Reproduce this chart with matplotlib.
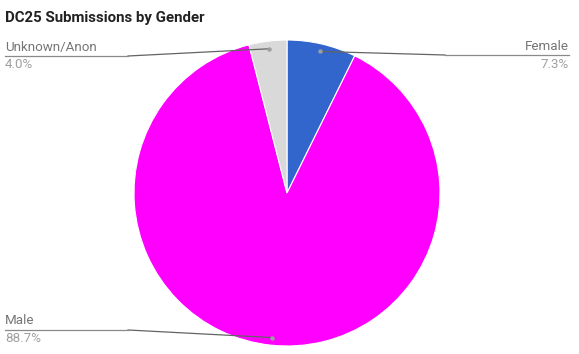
import numpy as np
import matplotlib.pyplot as plt

labels = ["Female", "Male", "Unknown/Anon"]
shares = [7.3, 88.7, 4.0]
colors = ["#3366cc", "#ff00ff", "#d9d9d9"]

W, H = 579, 354
fig = plt.figure(figsize=(W / 100, H / 100), dpi=100)
ax = fig.add_axes([0, 0, 1, 1])

cx, cy, r = 287, H - 193, 153
ax.pie(shares, colors=colors, startangle=90, counterclock=False,
       center=(cx, cy), radius=r, frame=True,
       wedgeprops=dict(edgecolor="white", linewidth=0.8))
ax.set_xlim(0, W)
ax.set_ylim(0, H)
ax.set_aspect("equal")
ax.axis("off")

fig.text(5 / W, 1 - 18 / H, "DC25 Submissions by Gender", fontfamily="Roboto",
         fontweight="bold", fontsize=10.8, color="#222222", va="center")

# label anchors: (side, y of underline in px)
layout = {"Female": ("right", 55), "Male": ("left", 330), "Unknown/Anon": ("left", 56)}

cum = 0
for lab, val in zip(labels, shares):
    mid = 90 - (cum + val / 2) * 3.6
    cum += val
    dx, dy = np.cos(np.radians(mid)), np.sin(np.radians(mid))
    px, py = cx + 0.95 * r * dx, cy + 0.95 * r * dy
    side, ly = layout[lab]
    ly = H - ly
    if side == "right":
        x_end, x_knee, ha = 569, 445, "right"
    else:
        x_end, x_knee, ha = 5, 128, "left"
    ax.plot([px, x_knee], [py, ly], color="#636363", lw=0.9)
    ax.plot([x_knee, x_end], [ly, ly], color="#8a8a8a", lw=0.9)
    ax.plot(px, py, "o", ms=3.2, color="#9e9e9e", mec="none")
    ax.text(x_end, ly + 2.5, lab, ha=ha, va="bottom", fontfamily="Roboto",
            fontsize=9.6, color="#757575")
    ax.text(x_end, ly - 2.5, f"{val:.1f}%", ha=ha, va="top", fontfamily="Roboto",
            fontsize=9.6, color="#a0a0a0")

fig.savefig("out.png", dpi=100)
